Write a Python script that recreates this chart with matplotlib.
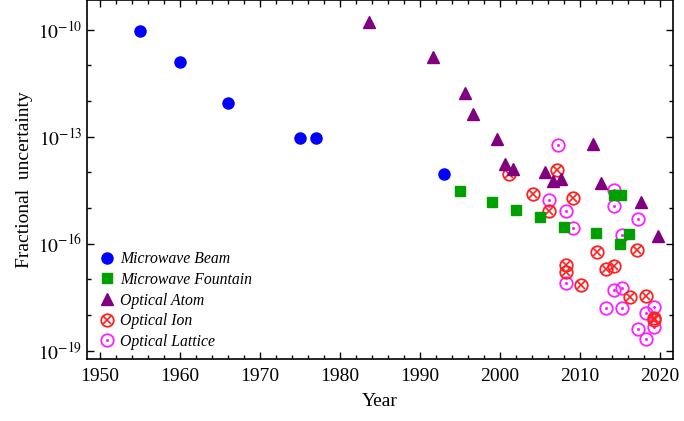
import matplotlib
matplotlib.use("Agg")
import matplotlib.pyplot as plt

plt.rcParams["font.family"] = "serif"
plt.rcParams["font.serif"] = ["Liberation Serif", "DejaVu Serif"]
plt.rcParams["mathtext.fontset"] = "stix"

# values (year, fractional uncertainty)
beam_year = [1955, 1960, 1966, 1975, 1977, 1993]
beam_unc = [8.9e-11, 1.23e-11, 8.5e-13, 8.9e-14, 8.9e-14, 8.7e-15]

fountain_year = [1995, 1999, 2002, 2005, 2008, 2012, 2014.3, 2015.2, 2016.1, 2015]
fountain_unc = [3.0e-15, 1.48e-15, 8.9e-16, 5.75e-16, 2.9e-16, 2.0e-16,
                2.34e-15, 2.34e-15, 1.86e-16, 1.0e-16]

atom_year = [1983.6, 1991.6, 1995.6, 1996.6, 1999.6, 2000.7, 2001.7, 2005.6,
             2006.6, 2007.7, 2011.7, 2012.7, 2017.7, 2019.7]
atom_unc = [1.62e-10, 1.7e-11, 1.7e-12, 4.2e-13, 8.7e-14, 1.74e-14, 1.26e-14,
            1.0e-14, 5.6e-15, 6.3e-15, 6.2e-14, 5.0e-15, 1.45e-15, 1.6e-16]

ion_year = [2001.2, 2004.2, 2006.2, 2007.2, 2009.2, 2008.3, 2008.3, 2010.2,
            2012.2, 2013.3, 2014.3, 2017.2, 2016.25, 2018.25, 2019.2, 2019.2]
ion_unc = [8.7e-15, 2.5e-15, 8.3e-16, 1.15e-14, 1.95e-15, 2.45e-17, 1.6e-17,
           7.1e-18, 5.75e-17, 1.9e-17, 2.4e-17, 6.5e-17, 3.2e-18, 3.5e-18,
           8.3e-19, 7.2e-19]

lattice_year = [2007.3, 2006.2, 2008.3, 2009.2, 2014.3, 2014.3, 2017.25, 2015.3,
                2008.3, 2014.3, 2015.3, 2013.3, 2015.3, 2017.25, 2018.25,
                2019.25, 2019.25, 2018.25]
lattice_unc = [5.75e-14, 1.66e-15, 8.3e-16, 2.8e-16, 3.2e-15, 1.17e-15, 4.8e-16,
               1.78e-16, 8.1e-18, 5.1e-18, 5.6e-18, 1.6e-18, 1.6e-18, 4.1e-19,
               1.15e-18, 1.66e-18, 4.5e-19, 2.1e-19]

major_y = [1e-10, 1e-13, 1e-16, 1e-19]
major_y_labels = ["$10^{-10}$", "$10^{-13}$", "$10^{-16}$", "$10^{-19}$"]
minor_y = [1e-11, 1e-12, 1e-14, 1e-15, 1e-17, 1e-18]
major_x = [1950, 1960, 1970, 1980, 1990, 2000, 2010, 2020]

blue = "#0000ff"
green = "#00a000"
purple = "#800080"
red = "#ff2020"
magenta = "#ff20ff"

fig = plt.figure(figsize=(6.84, 4.21), dpi=100)
ax = fig.add_axes([0.1268, 0.1466, 0.8567, 0.8534])

# lattice: open circle with centre dot
h_lat_o, = ax.plot(lattice_year, lattice_unc, ls="none", marker="o", ms=9,
                   mfc="none", mec=magenta, mew=1.3)
h_lat_d, = ax.plot(lattice_year, lattice_unc, ls="none", marker="o", ms=2.2,
                   mfc=magenta, mec=magenta, mew=0)
# ion: open circle with a cross
h_ion_o, = ax.plot(ion_year, ion_unc, ls="none", marker="o", ms=9,
                   mfc="none", mec=red, mew=1.3)
h_ion_x, = ax.plot(ion_year, ion_unc, ls="none", marker="x", ms=6,
                   mec=red, mew=1.2)
h_fnt, = ax.plot(fountain_year, fountain_unc, ls="none", marker="s", ms=7,
                 mfc=green, mec=green)
h_atm, = ax.plot(atom_year, atom_unc, ls="none", marker="^", ms=8.5,
                 mfc=purple, mec=purple)
h_bm, = ax.plot(beam_year, beam_unc, ls="none", marker="o", ms=8,
                mfc=blue, mec=blue)

ax.set_yscale("log")
ax.set_yticks(major_y, major_y_labels)
ax.set_yticks(minor_y, minor=True)
ax.set_xticks(major_x)
ax.set_xticks(range(1950, 2022, 2), minor=True)
ax.set_xlim(1948.4, 2021.6)
ax.set_ylim(10 ** -19.24, 10 ** -9.17)
ax.tick_params(which="both", direction="in", top=True, right=True,
               labelsize=14, width=1.0)
ax.tick_params(which="major", length=5)
ax.tick_params(which="minor", length=3)
ax.tick_params(axis="x", pad=6)
ax.tick_params(axis="y", pad=3)
ax.yaxis.set_minor_formatter(matplotlib.ticker.NullFormatter())
for s in ax.spines.values():
    s.set_linewidth(1.2)

ax.set_xlabel("Year", fontsize=14, labelpad=6)
ax.set_ylabel("Fractional  uncertainty", fontsize=14, labelpad=4)

ax.legend([h_bm, h_fnt, h_atm, (h_ion_o, h_ion_x), (h_lat_o, h_lat_d)],
          ["Microwave Beam", "Microwave Fountain", "Optical Atom",
           "Optical Ion", "Optical Lattice"],
          loc="lower left", bbox_to_anchor=(0.022, 0.026), frameon=False,
          borderpad=0, borderaxespad=0, handlelength=1.0, handletextpad=0.3,
          labelspacing=0.3, prop={"style": "italic", "size": 11.3})

fig.savefig("out.png", dpi=100)
